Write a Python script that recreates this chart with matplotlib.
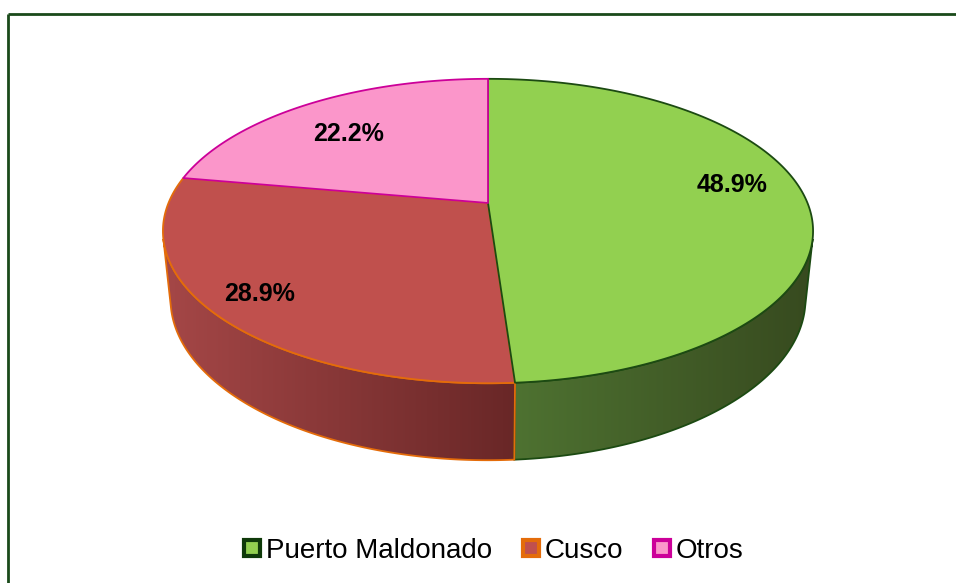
import numpy as np
import matplotlib
matplotlib.use("Agg")
import matplotlib.pyplot as plt
from matplotlib.patches import Polygon
from matplotlib.lines import Line2D
from matplotlib.colors import LinearSegmentedColormap

# data
categories = ["Puerto Maldonado", "Cusco", "Otros"]
shares = [48.9, 28.9, 22.2]
labels = ["48.9%", "28.9%", "22.2%"]

# styles
top_colors = ["#92d050", "#c0504d", "#fb96ca"]
edge_colors = ["#1c4a12", "#e46c0a", "#cc0099"]
side_colors = [("#4e7231", "#374a1f"), ("#a54747", "#692727"), ("#d080a8", "#a06080")]
top_order = [1, 0, 2]            # drawing order of top faces
label_r = [0.79, 0.85, 0.70]     # label radius (fraction of pie radius)
label_shift = [-7, 1, -3]        # label angle shift, degrees

plt.rcParams["font.family"] = ["Liberation Sans", "DejaVu Sans"]

# perspective camera for the 3D pie
elev = np.radians(27.4)
se, ce = np.sin(elev), np.cos(elev)
D = 4.82          # camera distance (pie radius = 1)
h = 0.2424        # pie thickness
S = 1540.0        # screen scale
cx, cy = 488.0, 203.0


def proj(u, v, z):
    depth = D + v * ce - z * se
    return cx + S * u / depth, cy - S * (v * se + z * ce) / depth


fig = plt.figure(figsize=(9.56, 5.83), dpi=100)
ax = fig.add_axes([0, 0, 1, 1])
ax.set_xlim(0, 956)
ax.set_ylim(583, 0)
ax.axis("off")

# frame
ax.plot([8, 956], [14, 14], color="#1a4a1a", lw=2, solid_capstyle="butt")
ax.plot([8, 8], [14, 583], color="#1a4a1a", lw=2, solid_capstyle="butt")

bounds = np.concatenate([[0], np.cumsum(shares)]) / sum(shares) * 360
vis0 = np.degrees(np.arccos(-1 / (D * ce)))
vis1 = 360 - vis0

for i in range(len(shares)):
    a0, a1 = bounds[i], bounds[i + 1]

    # visible outer side
    s0, s1 = max(a0, vis0), min(a1, vis1)
    if s1 > s0:
        th = np.radians(np.linspace(s0, s1, 200))
        xt, yt = proj(np.sin(th), np.cos(th), 0)
        xb, yb = proj(np.sin(th), np.cos(th), -h)
        side = np.column_stack([np.concatenate([xt, xb[::-1]]),
                                np.concatenate([yt, yb[::-1]])])
        cmap = LinearSegmentedColormap.from_list("side%d" % i, side_colors[i])
        grad = np.linspace(0, 1, 256).reshape(1, -1)
        im = ax.imshow(grad, cmap=cmap, aspect="auto", zorder=2,
                       extent=(side[:, 0].min(), side[:, 0].max(),
                               side[:, 1].max(), side[:, 1].min()))
        clip = Polygon(side, closed=True, transform=ax.transData)
        im.set_clip_path(clip)
        ax.add_patch(Polygon(side, closed=True, fill=False,
                             edgecolor=edge_colors[i], lw=1.3, zorder=3))

    # top face
    th = np.radians(np.linspace(a0, a1, 300))
    xt, yt = proj(np.sin(th), np.cos(th), 0)
    ox, oy = proj(0, 0, 0)
    top = np.column_stack([np.concatenate([[ox], xt]), np.concatenate([[oy], yt])])
    ax.add_patch(Polygon(top, closed=True, facecolor=top_colors[i],
                         edgecolor=edge_colors[i], lw=1.3,
                         joinstyle="round", zorder=4 + top_order[i]))

    # label
    mid = np.radians((a0 + a1) / 2 + label_shift[i])
    lx, ly = proj(label_r[i] * np.sin(mid), label_r[i] * np.cos(mid), 0)
    ax.text(lx, ly, labels[i], ha="center", va="center", fontsize=18,
            fontweight="bold", color="black", zorder=10)

handles = [Line2D([], [], marker="s", linestyle="none", markersize=12,
                  markerfacecolor=top_colors[i], markeredgecolor=edge_colors[i]
                  if i else "#0f3a0a", markeredgewidth=3)
           for i in range(len(categories))]
fig.legend(handles, categories, loc="center",
           bbox_to_anchor=(492 / 956, 1 - 551 / 583), ncol=3, frameon=False,
           fontsize=20, handletextpad=0.1, columnspacing=1.0, handlelength=0.8)

fig.savefig("out.png", dpi=100)
